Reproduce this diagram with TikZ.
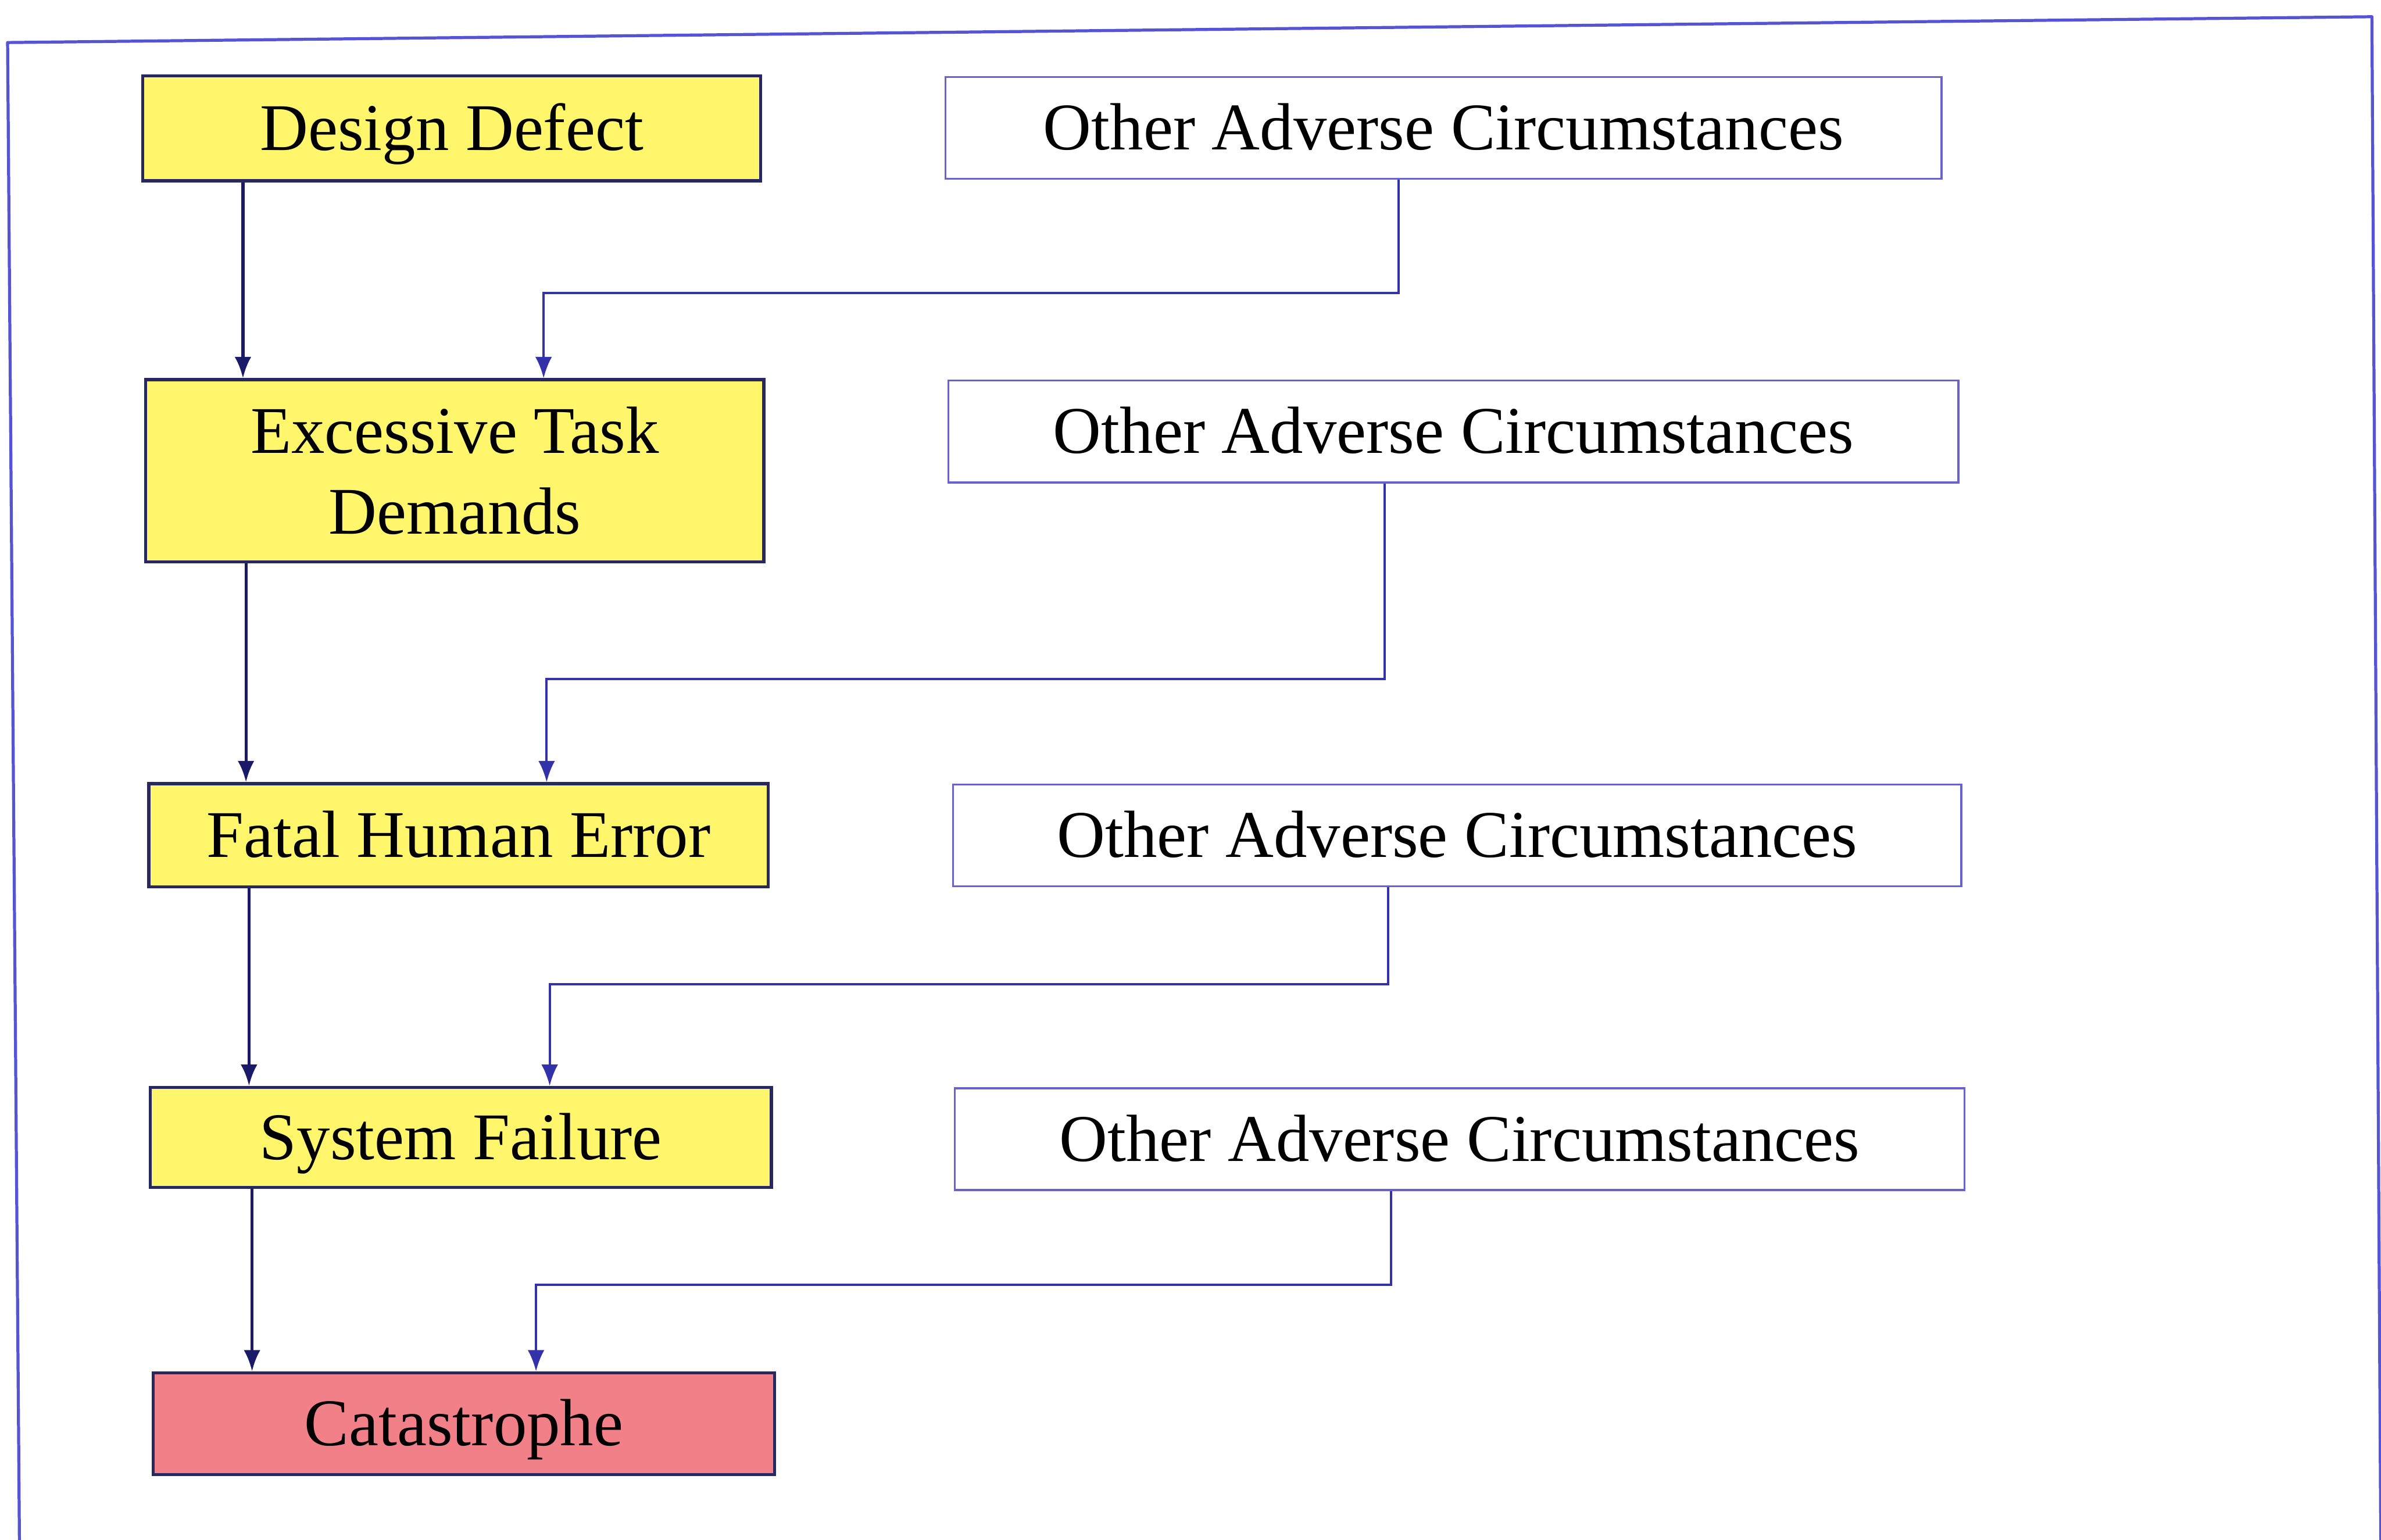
\documentclass[tikz,border=0pt]{standalone}
\usepackage{fontspec}
\setmainfont{Liberation Serif}
\usetikzlibrary{arrows.meta,calc}

\definecolor{framecol}{RGB}{84,84,212}
\definecolor{causefill}{RGB}{255,246,108}
\definecolor{catfill}{RGB}{242,128,136}
\definecolor{causeline}{RGB}{40,40,96}
\definecolor{otherline}{RGB}{104,98,206}
\definecolor{chaincol}{RGB}{26,26,104}
\definecolor{feedcol}{RGB}{52,50,170}

\newcommand{\labelsize}{\fontsize{12.5}{15.1}\selectfont}

\tikzset{
  cause/.style={draw=causeline, fill=causefill, line width=0.2mm, inner sep=0pt,
    align=center, anchor=north west, font=\labelsize, text=black},
  oneline/.style={text height=0.82em, text depth=0pt},
  final/.style={cause, oneline, fill=catfill},
  other/.style={draw=otherline, fill=white, line width=0.13mm, inner sep=0pt,
    align=center, anchor=north west, font=\labelsize, text=black,
    minimum height=6.7mm, oneline},
  chain/.style={draw=chaincol, line width=0.2mm, -{Latex[length=1.4mm,width=1.1mm]}},
  feed/.style={draw=feedcol, line width=0.15mm, -{Latex[length=1.4mm,width=1.1mm]}},
}

\begin{document}
\begin{tikzpicture}[x=0.1mm, y=-0.1mm]
  \useasboundingbox (0,0) rectangle (1568,1014);
  \fill[white] (0,0) rectangle (1568,1014);

  % outer frame (open at the bottom of the page)
  \draw[framecol, line width=0.2mm, line join=round]
    (13,1040) -- (5,28) -- (1562,11) -- (1568,1040);

  % main causal chain
  \node[cause, oneline, minimum width=40.7mm, minimum height=6.9mm] (dd) at (93,49) {Design Defect};
  \node[cause, minimum width=40.7mm, minimum height=12.0mm] (ex) at (95,249) {Excessive Task\\Demands};
  \node[cause, oneline, minimum width=40.8mm, minimum height=6.8mm] (fh) at (97,515) {Fatal Human Error};
  \node[cause, oneline, minimum width=40.9mm, minimum height=6.6mm] (sf) at (98,715) {System Failure};
  \node[final, minimum width=40.9mm, minimum height=6.7mm] (ca) at (100,903) {Catastrophe};

  % contributing circumstances
  \node[other, minimum width=65.6mm] (o1) at (622,50) {Other Adverse Circumstances};
  \node[other, minimum width=66.5mm] (o2) at (624,250) {Other Adverse Circumstances};
  \node[other, minimum width=66.4mm] (o3) at (627,516) {Other Adverse Circumstances};
  \node[other, minimum width=66.5mm] (o4) at (628,716) {Other Adverse Circumstances};

  % chain arrows
  \draw[chain] ([xshift=6.7mm]dd.south west) -- ([xshift=6.7mm]dd.south west |- ex.north);
  \draw[chain] ([xshift=6.7mm]ex.south west) -- ([xshift=6.7mm]ex.south west |- fh.north);
  \draw[chain] ([xshift=6.7mm]fh.south west) -- ([xshift=6.7mm]fh.south west |- sf.north);
  \draw[chain] ([xshift=6.8mm]sf.south west) -- ([xshift=6.8mm]sf.south west |- ca.north);

  % bends of the circumstance connectors
  \coordinate (b1) at (358,193);
  \coordinate (b2) at (360,447);
  \coordinate (b3) at (362,648);
  \coordinate (b4) at (353,846);

  \draw[feed] ([xshift=29.9mm]o1.south west) |- (b1) -- (b1 |- ex.north);
  \draw[feed] ([xshift=28.8mm]o2.south west) |- (b2) -- (b2 |- fh.north);
  \draw[feed] ([xshift=28.7mm]o3.south west) |- (b3) -- (b3 |- sf.north);
  \draw[feed] ([xshift=28.8mm]o4.south west) |- (b4) -- (b4 |- ca.north);
\end{tikzpicture}
\end{document}
